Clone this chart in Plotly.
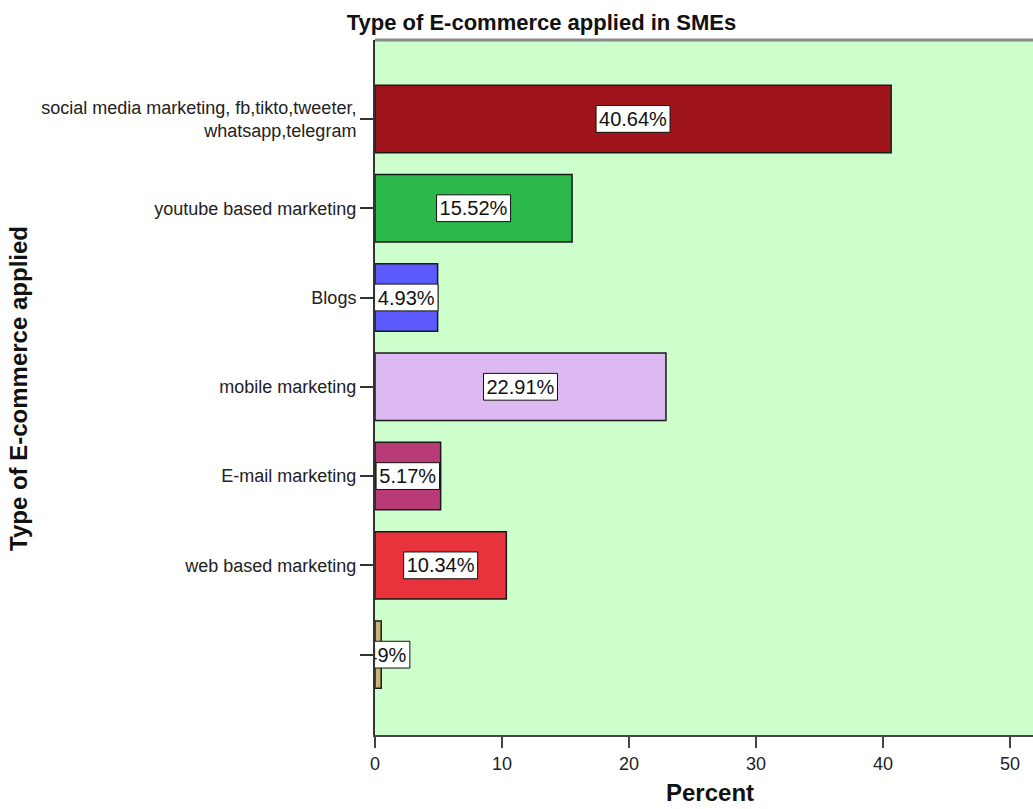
import plotly.graph_objects as go

categories = [
    "social media marketing, fb,tikto,tweeter,<br>whatsapp,telegram",
    "youtube based marketing",
    "Blogs",
    "mobile marketing",
    "E-mail marketing",
    "web based marketing",
    " ",
]
percent = [40.64, 15.52, 4.93, 22.91, 5.17, 10.34, 0.49]
bar_colors = ["#A0151B", "#2DB84B", "#5A5AFF", "#DCB9F0", "#B83B77", "#E8323C", "#C8B676"]
labels = [f"{v:.2f}%" for v in percent]

# layout geometry (px)
W, H = 1033, 809
L, R, T, B = 375, 0, 40, 74
plot_w = W - L - R
plot_h = H - T - B
px_per_unit = 12.7
x_max = plot_w / px_per_unit

idx = list(range(len(categories)))

# label box widths (in data units), derived from label length
box_w = [(len(s) * 10.5 + 11) / px_per_unit for s in labels]
box_base = [v / 2 - w / 2 for v, w in zip(percent, box_w)]

FONT = "Liberation Sans, Arial, sans-serif"

fig = go.Figure()
fig.add_trace(go.Bar(
    y=idx, x=percent, orientation="h", width=0.755,
    marker=dict(color=bar_colors, line=dict(color="#1a1a1a", width=1.5)),
    hoverinfo="skip", showlegend=False,
))
fig.add_trace(go.Bar(
    y=idx, x=box_w, base=box_base, orientation="h", width=0.3,
    marker=dict(color="white", line=dict(color="#111111", width=1)),
    text=labels, textposition="inside", insidetextanchor="middle",
    textangle=0, constraintext="none", cliponaxis=True,
    textfont=dict(family=FONT, size=20, color="#111111"),
    hoverinfo="skip", showlegend=False,
))

fig.update_layout(
    width=W, height=H,
    margin=dict(l=L, r=R, t=T, b=B, pad=0),
    paper_bgcolor="white",
    plot_bgcolor="#CCFFCC",
    barmode="overlay",
    font=dict(family=FONT, size=18, color="#222222"),
    title=dict(
        text="Type of E-commerce applied in SMEs",
        font=dict(family=FONT, size=22, color="#111111", weight="bold"),
        x=541.5 / W, xanchor="center", xref="container",
        y=1 - 22 / H, yanchor="middle", yref="container",
    ),
    xaxis=dict(
        range=[0, x_max], tickvals=[0, 10, 20, 30, 40, 50],
        showgrid=False, zeroline=False,
        showline=True, linecolor="#444444", linewidth=2,
        ticks="outside", ticklen=11, tickwidth=2, tickcolor="#444444",
        tickfont=dict(size=18, color="#222222"),
    ),
    yaxis=dict(
        range=[6.9, -0.884], tickvals=idx, ticktext=categories,
        showgrid=False, zeroline=False,
        showline=True, linecolor="#333333", linewidth=2,
        ticks="outside", ticklen=13, tickwidth=1.5, tickcolor="#333333",
        tickfont=dict(size=18, color="#222222"),
    ),
    shapes=[dict(type="line", xref="paper", yref="paper", x0=0, x1=1, y0=1, y1=1,
                 line=dict(color="#8a8a8a", width=3))],
    annotations=[
        dict(text="<b>Percent</b>", xref="paper", yref="paper",
             x=(710 - L) / plot_w, y=-(792 - (H - B)) / plot_h,
             xanchor="center", yanchor="middle", showarrow=False,
             font=dict(family=FONT, size=24, color="#111111")),
        dict(text="<b>Type of E-commerce applied</b>", xref="paper", yref="paper",
             x=(18 - L) / plot_w, y=((H - B) - 389) / plot_h, textangle=-90,
             xanchor="center", yanchor="middle", showarrow=False,
             font=dict(family=FONT, size=24, color="#111111")),
    ],
)

fig.write_html("out.html")
